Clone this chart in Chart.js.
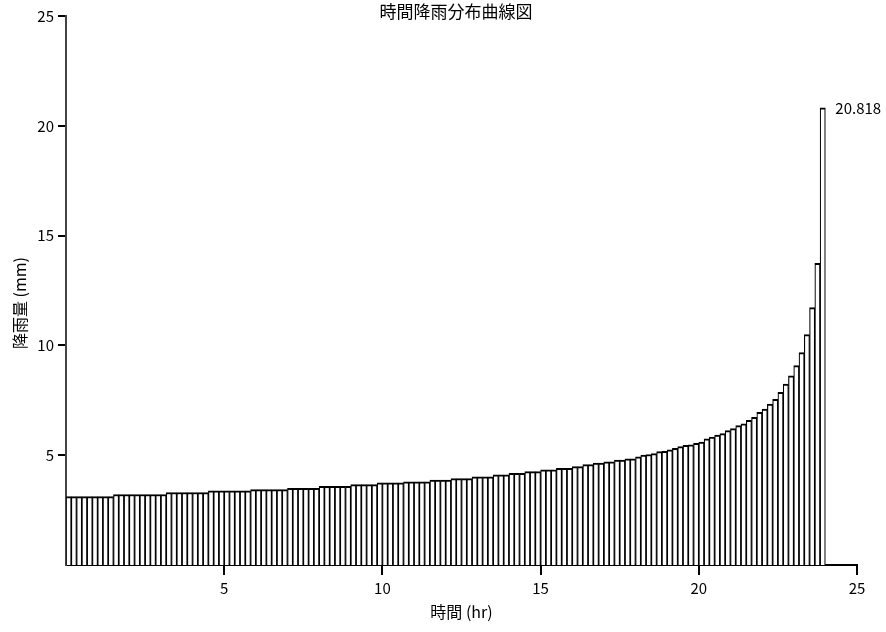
<!DOCTYPE html>
<html>
<head>
<meta charset="utf-8">
<script src="https://cdn.jsdelivr.net/npm/chart.js@4.4.1/dist/chart.umd.min.js"></script>
<style>
    html, body { margin: 0; padding: 0; background: #fff; }
    .chart-wrap { width: 886px; height: 632px; position: relative; }
</style>
</head>
<body>
<div class="chart-wrap"><canvas id="chart"></canvas></div>
<script>
// 10-minute rainfall depths (mm)
const rainfall = [
    3.11, 3.11, 3.11, 3.11, 3.11, 3.11, 3.11, 3.11, 3.11,
    3.21, 3.21, 3.21, 3.21, 3.21, 3.21, 3.21, 3.21, 3.21, 3.21,
    3.30, 3.30, 3.30, 3.30, 3.30, 3.30, 3.30, 3.30,
    3.38, 3.38, 3.38, 3.38, 3.38, 3.38, 3.38, 3.38,
    3.43, 3.43, 3.43, 3.43, 3.43, 3.43, 3.43,
    3.49, 3.49, 3.49, 3.49, 3.49, 3.49,
    3.58, 3.58, 3.58, 3.58, 3.58, 3.58,
    3.66, 3.66, 3.66, 3.66, 3.66,
    3.74, 3.74, 3.74, 3.74, 3.74,
    3.79, 3.79, 3.79, 3.79, 3.79,
    3.87, 3.87, 3.87, 3.87,
    3.93, 3.93, 3.93, 3.93,
    4.01, 4.01, 4.01, 4.01,
    4.11, 4.11, 4.11,
    4.17, 4.17, 4.17,
    4.25, 4.25, 4.25,
    4.33, 4.33, 4.33,
    4.40, 4.40, 4.40,
    4.48, 4.48,
    4.57, 4.57,
    4.64, 4.64,
    4.70, 4.70,
    4.78, 4.78,
    4.84, 4.84,
    4.93, 5.00, 5.03, 5.07, 5.16, 5.18, 5.24, 5.31, 5.39, 5.45,
    5.47, 5.54, 5.60, 5.75, 5.83, 5.92, 5.98, 6.12, 6.21, 6.35,
    6.43, 6.59, 6.72, 6.95, 7.10, 7.33, 7.54, 7.86, 8.24, 8.61,
    9.08, 9.67, 10.49, 11.72, 13.74, 20.818
];
// midpoint of each 10-minute interval, in hours
const timeHr = rainfall.map((_, i) => (i + 0.5) / 6);

const xTicks = [5, 10, 15, 20, 25];
const yTicks = [5, 10, 15, 20, 25];
const chartTitle = "時間降雨分布曲線図";
const xTitle = "時間 (hr)";
const yTitle = "降雨量 (mm)";

const FONT = '"Noto Sans CJK JP", "Noto Sans", sans-serif';

const labelsPlugin = {
    id: "labels",
    afterDraw(chart) {
        const { ctx, chartArea } = chart;
        ctx.save();
        ctx.fillStyle = "#000";
        ctx.textAlign = "center";
        ctx.textBaseline = "middle";

        ctx.font = `17px ${FONT}`;
        ctx.fillText(chartTitle, 456, 12);

        ctx.font = `16px ${FONT}`;
        ctx.fillText(xTitle, (chartArea.left + chartArea.right) / 2, 612);

        ctx.translate(20, 303);
        ctx.rotate(-Math.PI / 2);
        ctx.fillText(yTitle, 0, 0);
        ctx.restore();

        // value label on the peak bar
        const meta = chart.getDatasetMeta(0);
        const last = meta.data[meta.data.length - 1];
        ctx.save();
        ctx.fillStyle = "#000";
        ctx.font = `15px ${FONT}`;
        ctx.textAlign = "left";
        ctx.textBaseline = "middle";
        ctx.fillText(String(rainfall[rainfall.length - 1]), last.x + last.width / 2 + 10, last.y);
        ctx.restore();
    }
};

new Chart(document.getElementById("chart"), {
    type: "bar",
    data: {
        datasets: [
            {
                data: timeHr.map((t, i) => ({ x: t, y: rainfall[i] })),
                backgroundColor: "#fff",
                borderColor: "#000",
                borderWidth: { top: 2, left: 1.2, right: 1.2, bottom: 0 },
                barPercentage: 1,
                categoryPercentage: 1
            }
        ]
    },
    options: {
        responsive: true,
        maintainAspectRatio: false,
        animation: false,
        layout: { padding: { top: 16, right: 29, left: 0, bottom: 0 } },
        plugins: {
            legend: { display: false },
            tooltip: { enabled: false }
        },
        scales: {
            x: {
                type: "linear",
                min: 0,
                max: 25,
                offset: false,
                afterBuildTicks: (scale) => { scale.ticks = xTicks.map((v) => ({ value: v })); },
                afterFit: (scale) => { scale.height = 67; },
                grid: {
                    offset: false,
                    drawOnChartArea: false,
                    drawTicks: true,
                    tickLength: 10,
                    color: "#000",
                    lineWidth: 2
                },
                border: { display: true, color: "#000", width: 2 },
                ticks: {
                    color: "#000",
                    font: { family: FONT, size: 15 },
                    padding: 4,
                    maxRotation: 0
                }
            },
            y: {
                min: 0,
                max: 25,
                afterBuildTicks: (scale) => { scale.ticks = yTicks.map((v) => ({ value: v })); },
                afterFit: (scale) => { scale.width = 66; },
                grid: {
                    drawOnChartArea: false,
                    drawTicks: true,
                    tickLength: 8,
                    color: "#000",
                    lineWidth: 2
                },
                border: { display: true, color: "#444", width: 2 },
                ticks: {
                    color: "#000",
                    font: { family: FONT, size: 15 },
                    padding: 4
                }
            }
        }
    },
    plugins: [labelsPlugin]
});
</script>
</body>
</html>
